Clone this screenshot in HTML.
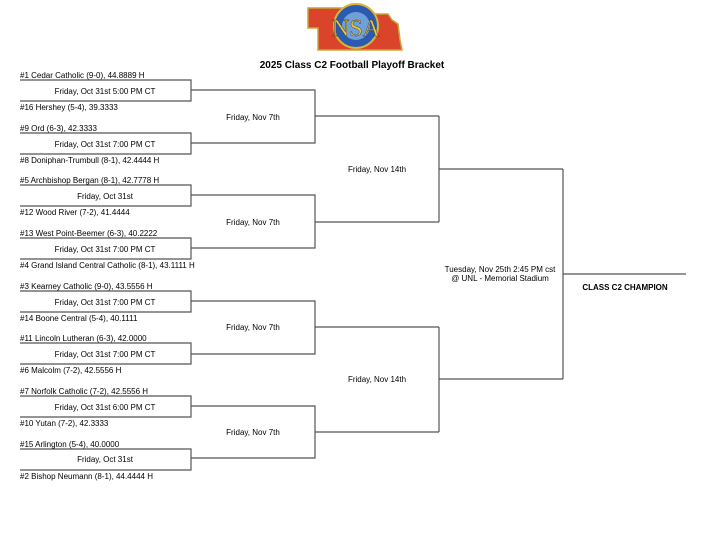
<!DOCTYPE html>
<html><head><style>body{margin:0;background:#fff}svg{display:block}</style></head><body>
<svg width="720" height="540" xmlns="http://www.w3.org/2000/svg" font-family="Liberation Sans, Arial, sans-serif" font-size="8" fill="#000">
<g>
<path d="M308 8 L350 8 L350 14 L388 14 L392 20 L398 24 L400 40 L402 50 L318 50 L318 28 L308 28 Z" fill="#d9442a" stroke="#c9a53a" stroke-width="1.5"/>
<circle cx="356" cy="26" r="22" fill="#2a5bb0" stroke="#d9b437" stroke-width="2"/>
<circle cx="356" cy="26" r="14" fill="#6fa0d8"/>
<text x="356" y="36" font-family="Liberation Serif, serif" font-size="24" fill="#e8c840" text-anchor="middle" stroke="#333" stroke-width="0.4">NSA</text>
</g>
<text x="352" y="68" font-size="10" font-weight="bold" text-anchor="middle">2025 Class C2 Football Playoff Bracket</text>
<g stroke="#555" stroke-width="1.2" fill="none">
<path d="M20 80H191V101H20"/><path d="M20 133H191V154H20"/>
<path d="M20 185H191V206H20"/><path d="M20 238H191V259H20"/>
<path d="M20 291H191V312H20"/><path d="M20 343H191V364H20"/>
<path d="M20 396H191V417H20"/><path d="M20 449H191V470H20"/>
<path d="M191 90H315V143H191"/><path d="M315 116H439"/>
<path d="M191 195H315V248H191"/><path d="M315 222H439"/>
<path d="M191 301H315V354H191"/><path d="M315 327H439"/>
<path d="M191 406H315V458H191"/><path d="M315 432H439"/>
<path d="M439 116V222M439 169H563"/>
<path d="M439 327V432M439 379H563"/>
<path d="M563 169V379M563 274H686"/>
</g>
<g>
<text x="20" y="78">#1 Cedar Catholic (9-0), 44.8889 H</text>
<text x="20" y="110">#16 Hershey (5-4), 39.3333</text>
<text x="20" y="131">#9 Ord (6-3), 42.3333</text>
<text x="20" y="163">#8 Doniphan-Trumbull (8-1), 42.4444 H</text>
<text x="20" y="183">#5 Archbishop Bergan (8-1), 42.7778 H</text>
<text x="20" y="215">#12 Wood River (7-2), 41.4444</text>
<text x="20" y="236">#13 West Point-Beemer (6-3), 40.2222</text>
<text x="20" y="268">#4 Grand Island Central Catholic (8-1), 43.1111 H</text>
<text x="20" y="289">#3 Kearney Catholic (9-0), 43.5556 H</text>
<text x="20" y="321">#14 Boone Central (5-4), 40.1111</text>
<text x="20" y="341">#11 Lincoln Lutheran (6-3), 42.0000</text>
<text x="20" y="373">#6 Malcolm (7-2), 42.5556 H</text>
<text x="20" y="394">#7 Norfolk Catholic (7-2), 42.5556 H</text>
<text x="20" y="426">#10 Yutan (7-2), 42.3333</text>
<text x="20" y="447">#15 Arlington (5-4), 40.0000</text>
<text x="20" y="479">#2 Bishop Neumann (8-1), 44.4444 H</text>
</g>
<g text-anchor="middle">
<text x="105" y="94">Friday, Oct 31st 5:00 PM CT</text>
<text x="105" y="147">Friday, Oct 31st 7:00 PM CT</text>
<text x="105" y="199">Friday, Oct 31st</text>
<text x="105" y="252">Friday, Oct 31st 7:00 PM CT</text>
<text x="105" y="305">Friday, Oct 31st 7:00 PM CT</text>
<text x="105" y="357">Friday, Oct 31st 7:00 PM CT</text>
<text x="105" y="410">Friday, Oct 31st 6:00 PM CT</text>
<text x="105" y="462">Friday, Oct 31st</text>
<text x="253" y="120">Friday, Nov 7th</text>
<text x="253" y="225">Friday, Nov 7th</text>
<text x="253" y="330">Friday, Nov 7th</text>
<text x="253" y="435">Friday, Nov 7th</text>
<text x="377" y="172">Friday, Nov 14th</text>
<text x="377" y="382">Friday, Nov 14th</text>
<text x="500" y="272">Tuesday, Nov 25th 2:45 PM cst</text>
<text x="500" y="281">@ UNL - Memorial Stadium</text>
<text x="625" y="290" font-weight="bold">CLASS C2 CHAMPION</text>
</g>
</svg>
</body></html>
